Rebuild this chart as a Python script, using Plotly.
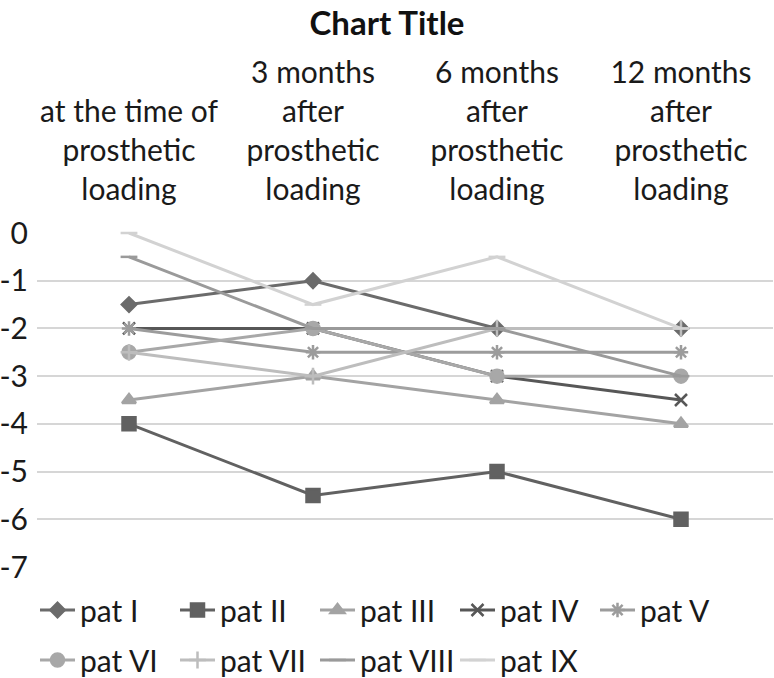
import plotly.graph_objects as go

categories = [
    "at the time of<br>prosthetic<br>loading",
    "3 months<br>after<br>prosthetic<br>loading",
    "6 months<br>after<br>prosthetic<br>loading",
    "12 months<br>after<br>prosthetic<br>loading",
]

pat_I = [-1.5, -1, -2, -2]
pat_II = [-4, -5.5, -5, -6]
pat_III = [-3.5, -3, -3.5, -4]
pat_IV = [-2, -2, -3, -3.5]
pat_V = [-2, -2.5, -2.5, -2.5]
pat_VI = [-2.5, -2, -3, -3]
pat_VII = [-2.5, -3, -2, -2]
pat_VIII = [-0.5, -2, -2, -3]
pat_IX = [0, -1.5, -0.5, -2]

y_ticks = [0, -1, -2, -3, -4, -5, -6, -7]

series = [
    ("pat I", pat_I, "#6b6b6b", "diamond", 11, "legend"),
    ("pat II", pat_II, "#616161", "square", 13, "legend"),
    ("pat III", pat_III, "#a3a3a3", "triangle-up", 12, "legend"),
    ("pat IV", pat_IV, "#575757", "x-thin-open", 12, "legend"),
    ("pat V", pat_V, "#9c9c9c", "asterisk-open", 12, "legend"),
    ("pat VI", pat_VI, "#a8a8a8", "circle", 13, "legend2"),
    ("pat VII", pat_VII, "#bdbdbd", "cross-thin-open", 12, "legend2"),
    ("pat VIII", pat_VIII, "#9a9a9a", "line-ew-open", 12, "legend2"),
    ("pat IX", pat_IX, "#d2d2d2", "line-ew-open", 12, "legend2"),
]

FONT = "Lato, 'Noto Sans', sans-serif"
TXT = "#1a1a1a"

fig = go.Figure()
for name, vals, color, sym, size, lg in series:
    fig.add_trace(go.Scatter(
        x=categories, y=vals, name=name, mode="lines+markers",
        line=dict(color=color, width=3),
        marker=dict(symbol=sym, size=size, color=color,
                    line=dict(color=color, width=2.5)),
        cliponaxis=False, legend=lg,
    ))

legend_common = dict(
    orientation="h", xref="container", yref="container",
    x=35 / 774, xanchor="left", yanchor="middle",
    font=dict(family=FONT, size=30, color=TXT),
    itemwidth=35, entrywidth=90, entrywidthmode="pixels",
    bgcolor="rgba(0,0,0,0)", borderwidth=0,
)

fig.update_layout(
    width=774, height=678,
    paper_bgcolor="white", plot_bgcolor="white",
    margin=dict(l=37, r=1, t=233, b=111, autoexpand=False),
    font=dict(family=FONT, size=30, color=TXT),
    title=dict(text="<b>Chart Title</b>", x=0.5, xanchor="center",
               xref="container", yref="container",
               y=1 - 23 / 678, yanchor="middle",
               font=dict(family=FONT, size=33, color="#111111")),
    showlegend=True,
    legend=dict(legend_common, y=1 - 610 / 678),
    legend2=dict(legend_common, y=1 - 660 / 678),
)
fig.update_xaxes(side="top", type="category", showgrid=False, showline=False,
                 ticks="", tickfont=dict(family=FONT, size=30, color=TXT),
                 range=[-0.5, 3.5], automargin=False, ticklabelstandoff=26)
fig.update_yaxes(range=[-7, 0], tickvals=y_ticks, ticktext=[str(v) for v in y_ticks],
                 showgrid=True, gridcolor="#d6d6d6", gridwidth=1.5,
                 zeroline=False, showline=False, ticks="", automargin=False,
                 ticklabelstandoff=8,
                 tickfont=dict(family=FONT, size=30, color=TXT))

fig.write_html("out.html",
               config={"displayModeBar": False},
               post_script="document.body.style.margin='0px';"
                           "document.body.style.padding='0px';"
                           "document.body.style.overflow='hidden';")
